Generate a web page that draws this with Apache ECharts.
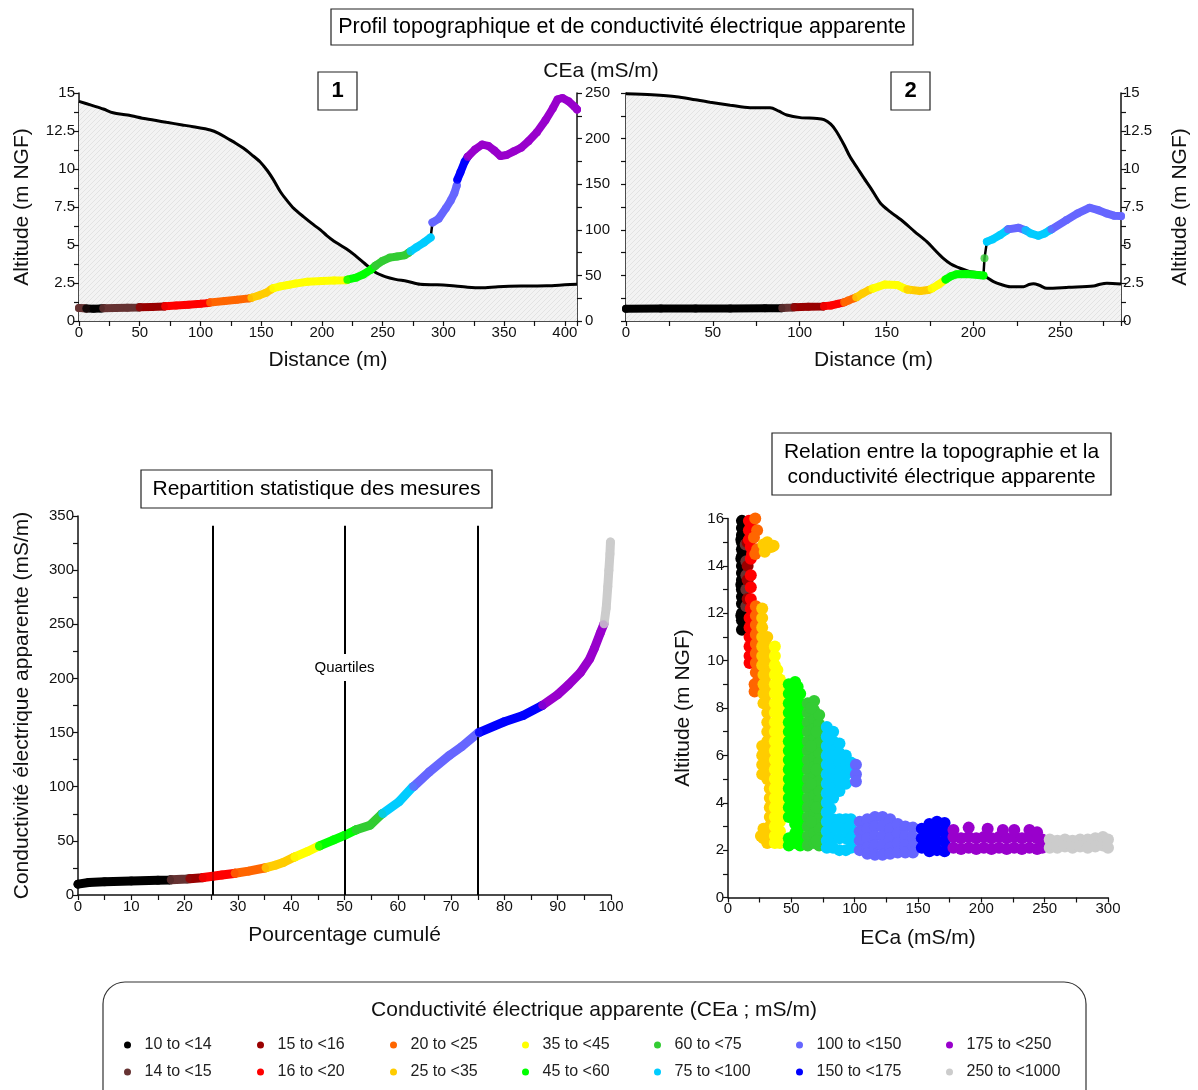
<!DOCTYPE html>
<html>
<head>
<meta charset="utf-8">
<script src="https://cdn.jsdelivr.net/npm/echarts@6/dist/echarts.min.js"></script>
<style>
html,body{margin:0;padding:0;background:#fff;}
#main{width:1198px;height:1090px;}
</style>
</head>
<body>
<div id="main"></div>
<script>
// ---------------- DATA ----------------
const classEdges = [10,14,15,16,20,25,35,45,60,75,100,150,175,250,1000];
const classLabels = ['10 to <14','14 to <15','15 to <16','16 to <20','20 to <25','25 to <35','35 to <45','45 to <60','60 to <75','75 to <100','100 to <150','150 to <175','175 to <250','250 to <1000'];
const classColors = ['#000000','#663333','#990000','#ff0000','#ff6600','#ffcc00','#ffff00','#00ff00','#33cc33','#00ccff','#6666ff','#0000ff','#9900cc','#cccccc'];

// Profile 1 : topography (distance m, altitude m NGF)
const topo1 = [[0,14.45],[10,14.2],[20,13.95],[28,13.7],[40,13.55],[55,13.3],[72,13.07],[85,12.9],[94,12.78],[108,12.57],[115,12.35],[122,12.02],[129,11.7],[135.5,11.36],[142,10.95],[149,10.48],[155,9.9],[160,9.3],[165.8,8.5],[171,7.95],[176.8,7.41],[185,6.85],[193.3,6.32],[199,5.98],[204,5.62],[210,5.25],[215,5.0],[220,4.75],[226,4.4],[235,3.8],[244,3.2],[252,2.92],[260.6,2.74],[270,2.62],[281,2.41],[295,2.38],[305,2.33],[320,2.22],[331,2.18],[345,2.25],[364,2.3],[385,2.32],[400,2.38],[410,2.42]];
// Profile 1 : CEa (distance m, mS/m), split where the record jumps
const cea1 = [
 [[0,14.2],[4,14.1],[6,13.6],[12,13.4],[18,13.6],[20,14.1],[30,14.3],[40,14.5],[49,14.8],[50,15.1],[60,15.4],[70,15.8],[71,16.2],[80,17],[90,17.8],[100,18.8],[106,19.6],[108,20.3],[120,22],[130,23.2],[140,24.8],[142,25.5],[148,28],[154,31],[158,34.5],[160,36],[166,38],[172,39.5],[178,41],[188,43],[200,43.8],[210,44.3],[220,44.8],[221,45.3],[228,47.5],[234,51],[240,56],[244,60.5],[250,66],[256,69.5],[262,70.8],[268,72],[271,74.5],[273,76.5],[278,81],[284,86],[289.5,91.5]],
 [[291,108],[296,112],[302,123.6],[306,132],[309,140],[311,148.5]],
 [[311.5,155],[314,163],[317.5,174.5],[320,180],[326,188],[332,193.5],[337,192],[342,187],[347,181],[352,182],[358,186],[364,190],[370,197],[377,207],[384,220],[390,233],[394,243],[398,244.5],[403,241],[408,235],[410,232]]
];
// Profile 2 : topography
const topo2 = [[0,14.95],[15,14.88],[29,14.76],[40,14.55],[48.4,14.39],[60,14.2],[71.4,14.03],[83,14.03],[88,13.8],[92.6,13.55],[100.4,13.38],[110,13.33],[114,13.25],[117.9,12.95],[121,12.5],[125.6,11.58],[129,10.8],[133.3,10.05],[137,9.4],[141,8.73],[146.5,7.75],[152,7.2],[159.7,6.53],[166,5.9],[173.2,5.22],[178,4.65],[182.7,4.12],[187,3.75],[192.4,3.47],[198,3.25],[203.9,3.14],[208,2.85],[211.6,2.59],[216,2.4],[221.2,2.26],[228.9,2.26],[232,2.4],[234.6,2.45],[238,2.35],[242.3,2.15],[255,2.22],[269.2,2.3],[273,2.42],[276.9,2.48],[285,2.43]];
// Profile 2 : CEa
const cea2 = [
 [[0,13.5],[20,13.6],[40,13.7],[60,13.8],[80,13.9],[89.5,13.95],[90,14.3],[96,14.9],[97,15.2],[105,15.6],[113.5,15.9],[114,16.3],[118,17],[122,18.8],[125.6,20.5],[128,22.5],[131,24.8],[132.6,26],[136,30],[140,34],[142,35.5],[149,40],[156,39.5],[160,36],[162,34.5],[169.4,32.9],[174,34],[176,35.5],[180,40],[184,45.5],[187,49],[190.4,51.2],[196,51.5],[205.8,50]],
 [[206.4,68.7]],
 [[207.8,87],[211,89.5],[215.4,94.3],[219,99],[220,100.5],[226,102.3],[230,99.5],[233,96],[237.4,93.5],[241,96],[244,99.5],[245,100.5],[253.6,110.7],[260,118],[267,124.2],[272,121.5],[276.7,118],[281,115.5],[285,115]]
];
// Cumulative distribution (cumulated %, CEa mS/m)
const cumul = [[0,10],[2,11.5],[5,12.2],[10,13],[15,13.6],[17.2,13.95],[17.5,14.1],[20.5,14.8],[21,15.1],[23.3,15.9],[23.5,16.1],[25.3,17.3],[27,18.5],[29.3,19.9],[29.5,20.1],[32,22],[35,24.9],[35.3,25.2],[37,27.5],[38.5,30],[40.5,34.8],[40.7,35.2],[43,40],[45,44.8],[45.3,45.3],[48,51],[50,55],[52,59.8],[52.2,60.2],[54.8,64.5],[57,74.8],[57.2,75.3],[60.2,86],[62.8,99.8],[63,100.3],[65.9,113.6],[69.7,129],[72,137],[75.1,149.8],[75.3,150.2],[80,160],[83.5,165.8],[87,174.8],[87.2,175.3],[90,185],[92,194],[94.3,205.7],[96,218],[96.9,228],[98,242],[98.6,249.5],[98.7,250.5],[99.1,265],[99.4,285],[99.6,300],[99.8,315],[99.9,326]];
const quartiles = [25.3, 50, 75];
const quartileTop = 341;
const quartileLabel = [[50, 210]];

// Altitude vs ECa point cloud, per class: [ECa, [altitudes...]]
const cloud_10_14 = [[11,[11.3,11.7,12.0,12.4,12.7,13.0,13.4,13.7,14.0,14.4,14.7,15.0,15.3,15.6,15.9]],[13,[12.0,12.9,13.8,14.6,15.2,15.7]],[10.5,[11.9,13.2,14.3,15.1]]];
const cloud_14_15 = [[14.5,[12.3,13.0,13.6,14.2]],[14,[14.9]]];
const cloud_15_16 = [[15.5,[12.6,13.4,14.0,15.0]]];
const cloud_16_20 = [[16.5,[15.9,15.5,15.1]],[18,[15.7,14.8,14.3,13.6,13.1,12.6,12.2]],[17,[11.8,11.4,11.0,10.6,10.2,9.9]],[19,[14.5,11.0,10.3]]];
const cloud_20_25 = [[21.5,[16.0,14.5]],[23,[15.5,14.7]],[20.5,[15.2]],[22,[12.3,11.9,11.5,11.1,10.7,10.3,9.9,9.5]],[24,[11.6,10.8,10.0,9.2]],[21,[9.0,8.7]]];
const cloud_25_35 = [[28,[14.9]],[31,[15.0]],[34,[14.8]],[36,[14.85]],[29,[14.6]],[27,[12.2,11.8,11.4,11.0,10.6,10.2,9.8]],[31,[11.0,10.6,10.2,9.8,9.4,9.0,8.6,8.2,7.8,7.4,7.0,6.6,6.2,5.8,5.4,5.0]],[28,[9.4,9.0,8.6,8.2]],[27,[6.4,6.0,5.6,5.2]],[33,[7.2,6.8,4.6,4.2,3.8,3.4,3.0]],[28,[2.9,2.5]],[31,[2.3,2.7]],[26,[2.6]]];
const cloud_35_45 = [[37,[10.6,10.2,9.8,9.4,9.0,8.6,8.2,7.8,7.4,7.0,6.6,6.2,5.8,5.4,5.0,4.6,4.2,3.8,3.4,3.0,2.6,2.3]],[41,[9.2,8.8,8.4,8.0,7.6,7.2,6.8,6.4,6.0,5.6,5.2,4.8,4.4,4.0,3.6,3.2,2.8,2.3]],[39,[9.6,8.0,6.2,4.2,2.5]]];
const cloud_45_60 = [[48,[9.0,8.6,8.2,7.8,7.4,7.0,6.6,6.2,5.8,5.4,5.0,4.6,4.2,3.8,3.4,2.5,2.2]],[53,[9.1,8.7,8.3,7.9,7.5,7.1,6.7,6.3,5.9,5.5,5.1,4.7,4.3,3.9,3.5,3.1,2.7,2.3]],[57,[8.6,8.2,7.8,7.4,7.0,6.6,6.2,5.8,5.4,5.0,4.6,4.2,3.8,3.4,3.0,2.6,2.2]],[50.5,[8.8,7.2,5.6,4.0]],[55,[8.9,7.3,5.7,4.1,2.5]]];
const cloud_60_75 = [[63,[8.2,7.8,7.4,7.0,6.6,6.2,5.8,5.4,5.0,4.6,4.2,3.8,3.4,3.0,2.6,2.2]],[68,[8.3,7.9,7.5,7.1,6.7,6.3,5.9,5.5,5.1,4.7,4.3,3.9,3.5,3.1,2.7,2.3]],[72,[7.7,7.3,6.9,6.5,6.1,5.7,5.3,4.9,4.5,4.1,3.7,3.3,2.9,2.5,2.2]],[65.5,[8.0,6.4,4.8,3.2]],[70,[7.0,5.4,3.8,2.4]]];
const cloud_75_100 = [[78,[7.2,6.8,6.4,6.0,5.6,5.2,4.8,4.4,4.0,3.6,3.2,2.8,2.4,2.1]],[83,[7.0,6.6,6.2,5.8,5.4,5.0,4.6,4.2,3.3,2.9,2.5,2.1]],[81,[3.75,6.0,4.5]],[88,[6.5,6.1,5.7,5.3,4.9,4.5,3.3,2.9,2.5,2.0]],[93,[6.0,5.6,5.2,4.8,3.3,2.9,2.5,2.0]],[97,[5.7,5.3,3.3,2.9,2.5,2.1]]];
const cloud_100_150 = [[101,[5.6,5.2,4.9]],[104,[3.2,2.8,2.4,2.0]],[110,[3.3,2.9,2.5,2.1,1.85]],[116,[3.4,3.0,2.6,2.2,1.8]],[122,[3.4,3.0,2.6,2.2,1.8]],[128,[3.3,2.9,2.5,2.1,1.85]],[134,[3.1,2.7,2.3,1.9]],[140,[3.0,2.6,2.2,1.9]],[146,[2.95,2.55,2.15,1.9]]];
const cloud_150_175 = [[153,[2.9,2.5,2.1]],[159,[3.1,2.7,2.3,1.95]],[165,[3.2,2.8,2.4,2.0]],[171,[3.15,2.75,2.35,1.95]]];
const cloud_175_250 = [[178,[2.55,2.1,2.85]],[184,[2.5,2.05]],[190,[2.55,2.1,2.95]],[196,[2.5,2.05]],[202,[2.55,2.1]],[205,[2.9]],[208,[2.5,2.05]],[214,[2.55,2.1]],[217,[2.85]],[220,[2.5,2.05]],[226,[2.55,2.1,2.85]],[232,[2.5,2.05]],[238,[2.55,2.1,2.85]],[244,[2.5,2.05,2.75]],[248,[2.45,2.1]]];
const cloud_250_1000 = [[254,[2.45,2.1]],[260,[2.4,2.1]],[266,[2.45,2.15]],[272,[2.4,2.1]],[278,[2.45,2.15]],[284,[2.45,2.1]],[290,[2.5,2.15]],[296,[2.55,2.2]],[300,[2.45,2.1]]];
const clouds = [cloud_10_14,cloud_14_15,cloud_15_16,cloud_16_20,cloud_20_25,cloud_25_35,cloud_35_45,cloud_45_60,cloud_60_75,cloud_75_100,cloud_100_150,cloud_150_175,cloud_175_250,cloud_250_1000];

// ---------------- HELPERS ----------------
const FONT = "'Liberation Sans', Arial, sans-serif";
function classOf(v){ let k=0; for(let i=0;i<classEdges.length-1;i++){ if(v>=classEdges[i]) k=i; } return k; }

function colorLines(prefix, segments, xi, yi, width, z){
  const series=[];
  classColors.forEach((col,k)=>{
    const data=[]; let any=false;
    segments.forEach(seg=>{
      seg.forEach((p,i)=>{
        const inK = classOf(p[1])===k || (i>0 && classOf(seg[i-1][1])===k);
        if(inK){ data.push(p); any=true; } else data.push([p[0],'-']);
      });
      data.push([seg[seg.length-1][0],'-']);
    });
    if(any) series.push({type:'line', name:prefix+k, xAxisIndex:xi, yAxisIndex:yi, data:data, showSymbol:false, symbol:'none', connectNulls:false, silent:true, z:z, lineStyle:{color:col, width:width, cap:'round', join:'round'}});
  });
  const dots=[];
  segments.forEach(seg=>seg.forEach(p=>dots.push({value:p, itemStyle:{color:classColors[classOf(p[1])]}})));
  series.push({type:'scatter', name:prefix+'dots', xAxisIndex:xi, yAxisIndex:yi, symbolSize:width, data:dots, silent:true, z:z+1});
  return series;
}

function hatchPattern(){
  const c=document.createElement('canvas'); c.width=5; c.height=5;
  const g=c.getContext('2d');
  g.fillStyle='#f3f3f3'; g.fillRect(0,0,5,5);
  g.strokeStyle='#e3e3e3'; g.lineWidth=1;
  g.beginPath(); g.moveTo(0,5); g.lineTo(5,0); g.moveTo(-1,1); g.lineTo(1,-1); g.moveTo(4,6); g.lineTo(6,4); g.stroke();
  return c;
}

function axisBase(extra, labelExtra){
  const o = Object.assign({
    type:'value',
    axisLine:{show:true, onZero:false, lineStyle:{color:'#111', width:1.5}},
    axisTick:{show:true, inside:false, length:5, lineStyle:{color:'#111', width:1.2}},
    minorTick:{show:true, splitNumber:2, length:5, lineStyle:{color:'#111', width:1.2}},
    splitLine:{show:false}, minorSplitLine:{show:false},
    nameTextStyle:{color:'#111', fontSize:21, fontFamily:FONT},
    nameLocation:'middle'
  }, extra);
  o.axisLabel = Object.assign({color:'#111', fontSize:15, fontFamily:FONT, margin:4}, labelExtra || {});
  return o;
}

// ---------------- OPTION ----------------
const pattern = {image: hatchPattern(), repeat:'repeat'};
const series = [];

// profile 1
series.push({type:'line', name:'topo1', xAxisIndex:0, yAxisIndex:0, data:topo1, showSymbol:false, symbol:'none', silent:true, z:1, smooth:0.3,
  lineStyle:{color:'#000', width:3}, areaStyle:{color:pattern, opacity:1}});
series.push({type:'line', name:'cea1link', xAxisIndex:0, yAxisIndex:1, data:cea1.flat(), showSymbol:false, symbol:'none', silent:true, z:2, lineStyle:{color:'#000', width:2.5}});
colorLines('cea1_', cea1, 0, 1, 8, 3).forEach(s=>series.push(s));

// profile 2
series.push({type:'line', name:'topo2', xAxisIndex:1, yAxisIndex:3, data:topo2, showSymbol:false, symbol:'none', silent:true, z:1, smooth:0.3,
  lineStyle:{color:'#000', width:3}, areaStyle:{color:pattern, opacity:1}});
series.push({type:'line', name:'cea2link', xAxisIndex:1, yAxisIndex:2, data:cea2.flat(), showSymbol:false, symbol:'none', silent:true, z:2, lineStyle:{color:'#000', width:2.5}});
colorLines('cea2_', cea2, 1, 2, 8, 3).forEach(s=>series.push(s));

// cumulative
series.push({type:'scatter', name:'quartiles', xAxisIndex:2, yAxisIndex:4, data:[], silent:true, z:2,
  markLine:{silent:true, symbol:['none','none'], animation:false, label:{show:false}, lineStyle:{color:'#000', width:2, type:'solid'},
    data: quartiles.map(q=>[{coord:[q,0]},{coord:[q,quartileTop]}])}});
series.push({type:'scatter', name:'quartileLabel', xAxisIndex:2, yAxisIndex:4, data:quartileLabel, symbolSize:0, itemStyle:{color:'#fff', opacity:1}, silent:true, z:10,
  label:{show:true, position:'inside', formatter:'Quartiles', color:'#000', opacity:1, fontSize:15, fontFamily:FONT, backgroundColor:'#fff', padding:[6,2]}});
colorLines('cum_', [cumul], 2, 4, 9, 4).forEach(s=>series.push(s));

// scatter cloud
clouds.forEach((cl,k)=>{
  const pts=[];
  cl.forEach(col=>col[1].forEach(a=>pts.push([col[0],a])));
  series.push({type:'scatter', name:classLabels[k], xAxisIndex:3, yAxisIndex:5, data:pts, symbol:'circle', symbolSize:12, silent:true, z:3,
    itemStyle:{color:classColors[k], opacity:1}});
});

// legends (7 columns x 2 rows)
const legendColX = [127, 260, 393, 525, 657, 799, 949];
const legendRowY = [1044, 1071];
const legends = [];
classLabels.forEach((lab,k)=>{
  const col = Math.floor(k/2), row = k%2;
  legends.push({show:true, data:[lab], left:legendColX[col]-3, top:legendRowY[row]-7, padding:0, itemWidth:24, itemHeight:7, icon:'circle',
    selectedMode:false, textStyle:{fontSize:16, color:'#222', fontFamily:FONT}});
});

const option = {
  animation:false,
  backgroundColor:'#fff',
  textStyle:{fontFamily:FONT},
  legend: legends,
  grid:[
    {left:79, top:93, width:498, height:228},
    {left:626, top:93, width:495, height:228},
    {left:78, top:516, width:533, height:379},
    {left:728, top:518.5, width:380, height:379}
  ],
  xAxis:[
    axisBase({gridIndex:0, min:0, max:410, interval:50, name:'Distance (m)', nameGap:29}, {showMaxLabel:false}),
    axisBase({gridIndex:1, min:0, max:285, interval:50, name:'Distance (m)', nameGap:29}, {showMaxLabel:false}),
    axisBase({gridIndex:2, min:0, max:100, interval:10, name:'Pourcentage cumulé', nameGap:30}),
    axisBase({gridIndex:3, min:0, max:300, interval:50, name:'ECa (mS/m)', nameGap:30})
  ],
  yAxis:[
    axisBase({gridIndex:0, min:0, max:15, interval:2.5, position:'left', name:'Altitude (m NGF)', nameGap:46, nameRotate:90}),
    axisBase({gridIndex:0, min:0, max:250, interval:50, position:'right'}, {margin:8}),
    axisBase({gridIndex:1, min:0, max:250, interval:50, position:'left'}, {show:false}),
    axisBase({gridIndex:1, min:0, max:15, interval:2.5, position:'right', name:'Altitude (m NGF)', nameGap:49, nameRotate:90}, {margin:2}),
    axisBase({gridIndex:2, min:0, max:350, interval:50, position:'left', name:'Conductivité électrique apparente (mS/m)', nameGap:45, nameRotate:90}),
    axisBase({gridIndex:3, min:0, max:16, interval:2, position:'left', name:'Altitude (m NGF)', nameGap:34, nameRotate:90})
  ],
  graphic:[
    {type:'rect', shape:{x:331,y:9,width:582,height:36}, style:{fill:'#fff', stroke:'#222', lineWidth:1.2}, z:10},
    {type:'text', x:622, y:27.5, style:{text:'Profil topographique et de conductivité électrique apparente', fontSize:21.5, fontFamily:FONT, fill:'#000', align:'center', verticalAlign:'middle'}, z:11},
    {type:'text', x:601, y:71, style:{text:'CEa (mS/m)', fontSize:21, fontFamily:FONT, fill:'#111', align:'center', verticalAlign:'middle'}, z:11},
    {type:'rect', shape:{x:318,y:72,width:39,height:38}, style:{fill:'#fff', stroke:'#222', lineWidth:1.2}, z:10},
    {type:'text', x:337.5, y:91, style:{text:'1', fontSize:22, fontWeight:'bold', fontFamily:FONT, fill:'#000', align:'center', verticalAlign:'middle'}, z:11},
    {type:'rect', shape:{x:891,y:72,width:39,height:38}, style:{fill:'#fff', stroke:'#222', lineWidth:1.2}, z:10},
    {type:'text', x:910.5, y:91, style:{text:'2', fontSize:22, fontWeight:'bold', fontFamily:FONT, fill:'#000', align:'center', verticalAlign:'middle'}, z:11},
    {type:'rect', shape:{x:141,y:470,width:351,height:38}, style:{fill:'#fff', stroke:'#222', lineWidth:1.2}, z:10},
    {type:'text', x:316.5, y:489.5, style:{text:'Repartition statistique des mesures', fontSize:21, fontFamily:FONT, fill:'#000', align:'center', verticalAlign:'middle'}, z:11},
    {type:'rect', shape:{x:772,y:433,width:339,height:62}, style:{fill:'#fff', stroke:'#222', lineWidth:1.2}, z:10},
    {type:'text', x:941.5, y:464.5, style:{text:'Relation entre la topographie et la\nconductivité électrique apparente', fontSize:21, lineHeight:25, fontFamily:FONT, fill:'#000', align:'center', verticalAlign:'middle'}, z:11},
    {type:'rect', shape:{x:103,y:982,width:983,height:140, r:22}, style:{fill:'none', stroke:'#333', lineWidth:1.2}, z:10},
    {type:'text', x:594, y:1010, style:{text:'Conductivité électrique apparente (CEa ; mS/m)', fontSize:21, fontFamily:FONT, fill:'#111', align:'center', verticalAlign:'middle'}, z:11}
  ],
  series: series
};

const chart = echarts.init(document.getElementById('main'), null, {renderer:'canvas', width:1198, height:1090});
chart.setOption(option);
</script>
</body>
</html>
